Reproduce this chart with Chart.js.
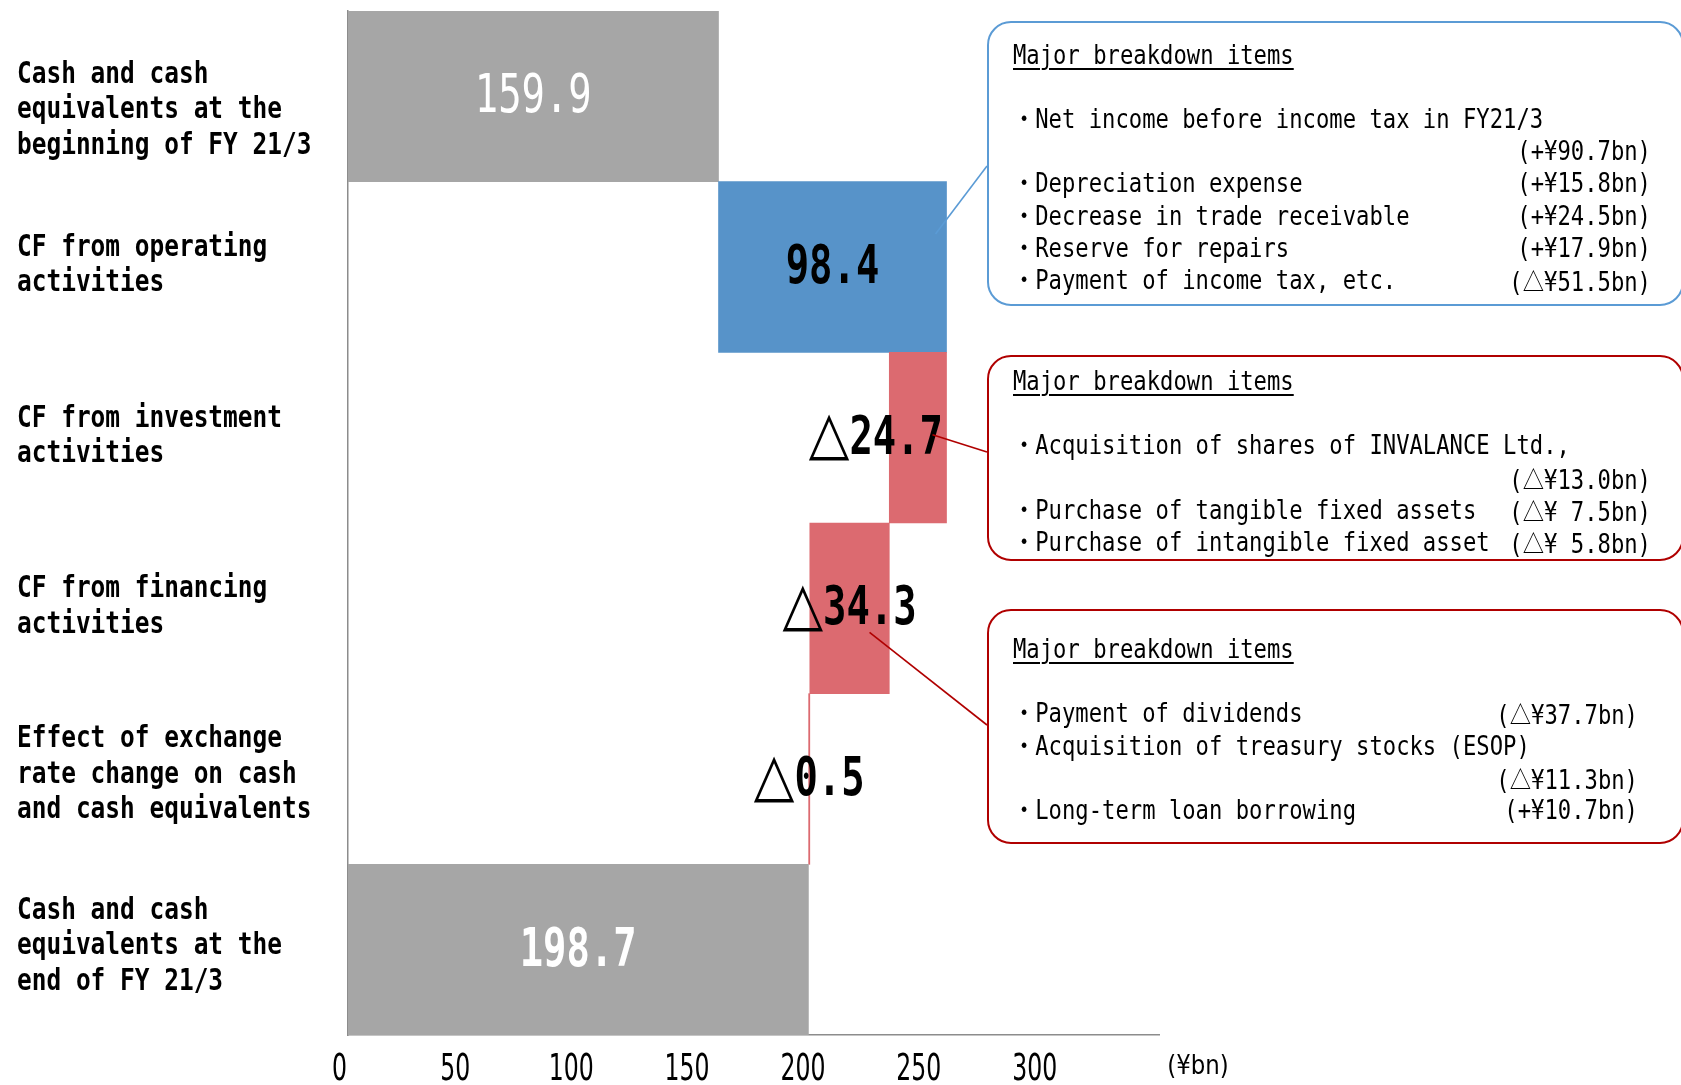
<!DOCTYPE html>
<html lang="en">
<head>
<meta charset="UTF-8" />
<title>Cash flows FY21/3</title>
<script src="https://cdn.jsdelivr.net/npm/chart.js"></script>
<style>
  html, body { margin: 0; padding: 0; background: #fff; }
  body { width: 1681px; height: 1085px; position: relative; overflow: hidden; }
  #cf { position: absolute; left: 0; top: 0; }
  .box { position: absolute; border-radius: 24px; box-sizing: border-box; }
  .box.blue { border: 2.5px solid #5B9BD5; }
  .box.red { border: 2.5px solid #B00000; }
  .txt {
    position: absolute; transform-origin: 0 0; transform: scaleX(0.854);
    font-family: "DejaVu Sans Mono", "Noto Sans CJK JP", monospace;
    font-size: 26px; line-height: 32.2px; color: #000; white-space: pre;
  }
  .txt .row { display: flex; height: 32.2px; }
  .txt .amt { margin-left: auto; }
  .txt .tri { font-family: "Noto Sans CJK JP", sans-serif; font-size: 25px; }
  .txt .ttl { text-decoration: underline; text-underline-offset: 4px; text-decoration-thickness: 1.5px; }
</style>
</head>
<body>
<canvas id="cf" width="1681" height="1085"></canvas>
<div id="notes"></div>

<script>
  // rows of the waterfall
  const categoryLines = [
    ['Cash and cash', 'equivalents at the', 'beginning of FY 21/3'],
    ['CF from operating', 'activities'],
    ['CF from investment', 'activities'],
    ['CF from financing', 'activities'],
    ['Effect of exchange', 'rate change on cash', 'and cash equivalents'],
    ['Cash and cash', 'equivalents at the', 'end of FY 21/3']
  ];
  const amounts = [159.9, 98.4, -24.7, -34.3, -0.5, 198.7];
  const kinds = ['total', 'up', 'down', 'down', 'down', 'total'];
  const xTicks = [0, 50, 100, 150, 200, 250, 300];
  const unitLabel = '(¥bn)';

  // breakdown boxes
  const operatingItems = [
    ['・Net income before income tax in FY21/3', ''],
    ['', '(+¥90.7bn)'],
    ['・Depreciation expense', '(+¥15.8bn)'],
    ['・Decrease in trade receivable', '(+¥24.5bn)'],
    ['・Reserve for repairs', '(+¥17.9bn)'],
    ['・Payment of income tax, etc.', '(△¥51.5bn)']
  ];
  const investmentItems = [
    ['・Acquisition of shares of INVALANCE Ltd.,', ''],
    ['', '(△¥13.0bn)'],
    ['・Purchase of tangible fixed assets', '(△¥ 7.5bn)'],
    ['・Purchase of intangible fixed asset', '(△¥ 5.8bn)']
  ];
  const financingItems = [
    ['・Payment of dividends', '(△¥37.7bn)'],
    ['・Acquisition of treasury stocks (ESOP)', ''],
    ['', '(△¥11.3bn)'],
    ['・Long-term loan borrowing', '(+¥10.7bn)']
  ];

  const colors = { total: '#A6A6A6', up: '#5793C9', down: '#DC6A70' };

  // floating bars from running total
  let run = 0;
  const ranges = amounts.map((v, i) => {
    if (kinds[i] === 'total') { run = v; return [0, v]; }
    const r = [run, run + v];
    run += v;
    return r;
  });
  const valueText = amounts.map(v => (v < 0 ? '△' : '') + Math.abs(v).toFixed(1));

  // segments: {t, f, sx, dy}; drawn left to right, each with its own horizontal squeeze
  function drawText(ctx, segs, x, y, sx, align) {
    ctx.save();
    ctx.textBaseline = 'middle';
    ctx.textAlign = 'left';
    let w = 0;
    segs.forEach(s => {
      ctx.font = s.f;
      s.k = s.sx || sx;
      s.w = ctx.measureText(s.t).width * s.k;
      w += s.w;
    });
    let px = align === 'center' ? x - w / 2 : x;
    segs.forEach(s => {
      ctx.save();
      ctx.font = s.f;
      ctx.translate(px, y + (s.dy || 0));
      ctx.scale(s.k, 1);
      ctx.fillText(s.t, 0, 0);
      ctx.restore();
      px += s.w;
    });
    ctx.restore();
  }

  const textPlugin = {
    id: 'cfText',
    afterDatasetsDraw(chart) {
      const { ctx } = chart;
      const xs = chart.scales.x, ys = chart.scales.y;
      const bars = chart.getDatasetMeta(0).data;

      // category labels on the left
      const rowShift = [14, -1, -1, -1, -4, -3];
      ctx.fillStyle = '#000';
      categoryLines.forEach((lines, i) => {
        const cy = ys.getPixelForValue(i) + rowShift[i];
        lines.forEach((t, k) => {
          const y = cy + (k - (lines.length - 1) / 2) * 35.4;
          drawText(ctx, [{ t, f: 'bold 30px "DejaVu Sans Mono"' }], 17, y, 0.815, 'left');
        });
      });

      // x tick labels
      xTicks.forEach(v => {
        drawText(ctx, [{ t: String(v), f: '38px "DejaVu Sans"' }], xs.getPixelForValue(v) - 8.5, 1070, 0.62, 'center');
      });
      drawText(ctx, [{ t: unitLabel, f: '26px "DejaVu Sans"' }], xs.right + 39, 1067, 0.88, 'center');

      // value labels
      const shift = [0, 0, -42, 0, 0, 0];
      bars.forEach((el, i) => {
        const cx = (el.x + el.base) / 2 + shift[i];
        const txt = valueText[i];
        const isTotal = kinds[i] === 'total';
        ctx.fillStyle = isTotal ? '#fff' : '#000';
        const weight = i === 0 ? '' : 'bold ';
        const segs = [];
        if (txt[0] === '△') segs.push({ t: '△', f: '60px "DejaVu Sans"', sx: 0.88, dy: -2 });
        segs.push({ t: txt.replace('△', ''), f: weight + '54px "DejaVu Sans Mono"' });
        drawText(ctx, segs, cx, el.y + 2, 0.72, 'center');
      });

      // callout leaders to the breakdown boxes
      const lead = (color, x1, y1, x2, y2) => {
        ctx.save();
        ctx.strokeStyle = color;
        ctx.lineWidth = 1.6;
        ctx.beginPath();
        ctx.moveTo(x1, y1);
        ctx.lineTo(x2, y2);
        ctx.stroke();
        ctx.restore();
      };
      const right = el => Math.max(el.x, el.base);
      const mid = el => (el.x + el.base) / 2;
      lead('#5B9BD5', 987, 166, right(bars[1]) - 11, bars[1].y - 33);
      lead('#B00000', 987, 452, right(bars[2]) - 14, bars[2].y - 3);
      lead('#B00000', 987, 725, mid(bars[3]) + 20, bars[3].y + 24);
    }
  };

  new Chart(document.getElementById('cf'), {
    type: 'bar',
    data: {
      labels: categoryLines.map(l => l.join(' ')),
      datasets: [{
        data: ranges,
        backgroundColor: kinds.map(k => colors[k]),
        borderWidth: 0,
        categoryPercentage: 1,
        barPercentage: 1
      }]
    },
    options: {
      indexAxis: 'y',
      responsive: false,
      animation: false,
      devicePixelRatio: 1,
      layout: { padding: { left: 348, right: 522, top: 11, bottom: 50 } },
      plugins: { legend: { display: false }, tooltip: { enabled: false } },
      scales: {
        x: {
          type: 'linear', min: 0, max: 350,
          ticks: { display: false, stepSize: 50 },
          grid: { display: false },
          border: { display: true, color: '#8C8C8C', width: 1.5 },
          afterFit(s) { s.height = 0; }
        },
        y: {
          ticks: { display: false },
          grid: { display: false },
          border: { display: true, color: '#8C8C8C', width: 1.5 },
          afterFit(s) { s.width = 0; }
        }
      }
    },
    plugins: [textPlugin]
  });

  // breakdown boxes (HTML text)
  const boxes = [
    { cls: 'blue', top: 21, height: 285, textTop: 38.6, right: 1651, items: operatingItems },
    { cls: 'red', top: 355, height: 206, textTop: 365, right: 1651, items: investmentItems },
    { cls: 'red', top: 609, height: 235, textTop: 633, right: 1638, items: financingItems }
  ];
  const notes = document.getElementById('notes');
  const tri = s => s.replace('△', '<span class="tri">△</span>');
  boxes.forEach(b => {
    const box = document.createElement('div');
    box.className = 'box ' + b.cls;
    Object.assign(box.style, { left: '987px', top: b.top + 'px', width: '697px', height: b.height + 'px' });
    notes.appendChild(box);

    const txt = document.createElement('div');
    txt.className = 'txt';
    Object.assign(txt.style, { left: '1013px', top: b.textTop + 'px', width: ((b.right - 1013) / 0.854) + 'px' });
    let html = '<div class="row"><span class="ttl">Major breakdown items</span></div><div class="row"></div>';
    b.items.forEach(([label, amt]) => {
      html += '<div class="row"><span>' + label + '</span><span class="amt">' + tri(amt) + '</span></div>';
    });
    txt.innerHTML = html;
    notes.appendChild(txt);
  });
</script>
</body>
</html>
